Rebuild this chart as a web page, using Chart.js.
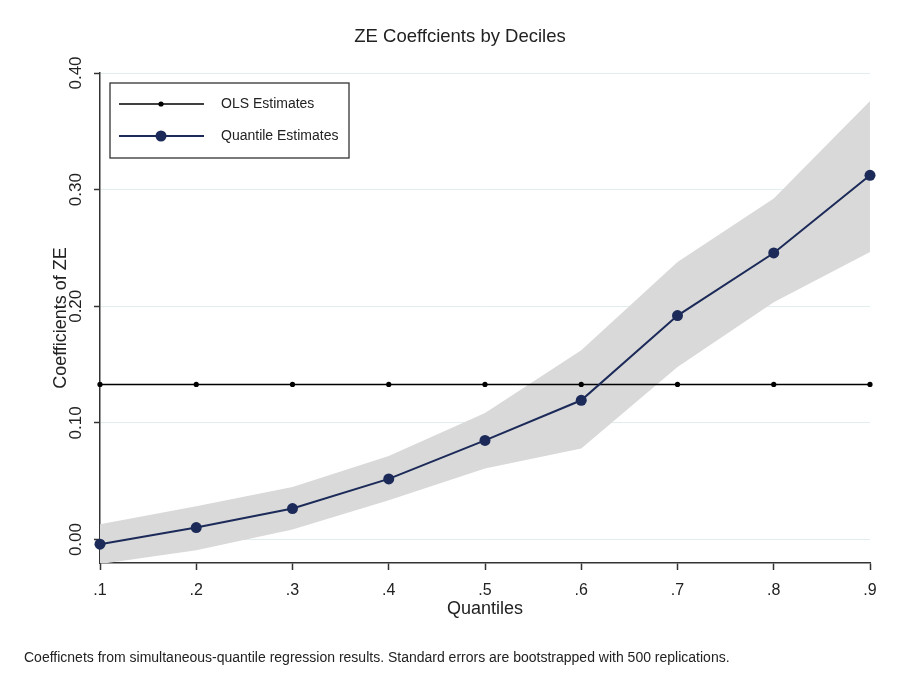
<!DOCTYPE html>
<html>
<head>
<meta charset="utf-8">
<script src="https://cdn.jsdelivr.net/npm/chart.js@4.4.0/dist/chart.umd.min.js"></script>
<style>
  html, body { margin: 0; padding: 0; background: #fff; }
  #wrap { width: 903px; height: 678px; }
</style>
</head>
<body>
<div id="wrap"><canvas id="zeChart" width="903" height="678"></canvas></div>
<script>
// data
const quantiles = ['.1', '.2', '.3', '.4', '.5', '.6', '.7', '.8', '.9'];
const olsEstimates = [0.133, 0.133, 0.133, 0.133, 0.133, 0.133, 0.133, 0.133, 0.133];
const quantileEstimates = [-0.004, 0.0103, 0.0266, 0.052, 0.085, 0.1194, 0.192, 0.2457, 0.3123];
const ciUpper = [0.0131, 0.0286, 0.0451, 0.0717, 0.1086, 0.1623, 0.238, 0.2923, 0.376];
const ciLower = [-0.021, -0.0092, 0.0086, 0.0337, 0.0609, 0.078, 0.148, 0.2034, 0.2466];
const yTicks = [0, 0.1, 0.2, 0.3, 0.4];

const footnote = 'Coefficnets from simultaneous-quantile regression results. Standard errors are bootstrapped with 500 replications.';
const navy = '#1b2a58';
const ink = '#222';

Chart.defaults.font.family = '"Liberation Sans", Arial, sans-serif';
Chart.defaults.color = ink;

// legend box inside plot, Stata style
const legendBox = {
    id: 'legendBox',
    afterDraw(chart) {
        const ctx = chart.ctx;
        const a = chart.chartArea;
        const x = a.left + 10, y = a.top + 10, w = 239, h = 75;
        ctx.save();
        ctx.fillStyle = '#fff';
        ctx.fillRect(x, y, w, h);
        ctx.strokeStyle = '#333';
        ctx.lineWidth = 1.3;
        ctx.strokeRect(x, y, w, h);
        const items = [chart.data.datasets[1], chart.data.datasets[0]];
        items.forEach(function(ds, i) {
            const cy = y + 21 + i * 32;
            ctx.strokeStyle = ds.borderColor;
            ctx.lineWidth = ds.borderWidth;
            ctx.beginPath();
            ctx.moveTo(x + 9, cy);
            ctx.lineTo(x + 94, cy);
            ctx.stroke();
            ctx.fillStyle = ds.pointBackgroundColor;
            ctx.beginPath();
            ctx.arc(x + 51, cy, ds.pointRadius, 0, Math.PI * 2);
            ctx.fill();
            ctx.fillStyle = ink;
            ctx.font = '14px "Liberation Sans", Arial, sans-serif';
            ctx.textBaseline = 'middle';
            ctx.fillText(ds.label, x + 111, cy);
        });
        ctx.restore();
    }
};

const noteText = {
    id: 'noteText',
    afterDraw(chart) {
        const ctx = chart.ctx;
        ctx.save();
        ctx.fillStyle = '#222';
        ctx.font = '14px "Liberation Sans", Arial, sans-serif';
        ctx.textBaseline = 'middle';
        ctx.fillText(footnote, 24, 658);
        ctx.restore();
    }
};

new Chart(document.getElementById('zeChart'), {
    type: 'line',
    data: {
        labels: quantiles,
        datasets: [{
            label: 'Quantile Estimates',
            data: quantileEstimates,
            borderColor: navy,
            borderWidth: 2,
            pointRadius: 5.5,
            pointBackgroundColor: navy,
            pointBorderWidth: 0,
            tension: 0,
            clip: false,
            order: 0
        }, {
            label: 'OLS Estimates',
            data: olsEstimates,
            borderColor: '#000',
            borderWidth: 1.6,
            pointRadius: 2.6,
            pointBackgroundColor: '#000',
            pointBorderWidth: 0,
            tension: 0,
            clip: false,
            order: 1
        }, {
            label: 'CI upper',
            data: ciUpper,
            borderWidth: 0,
            borderColor: 'rgba(0,0,0,0)',
            backgroundColor: '#d9d9d9',
            pointRadius: 0,
            fill: '+1',
            tension: 0,
            order: 2
        }, {
            label: 'CI lower',
            data: ciLower,
            borderWidth: 0,
            borderColor: 'rgba(0,0,0,0)',
            pointRadius: 0,
            fill: false,
            tension: 0,
            order: 3
        }]
    },
    options: {
        responsive: false,
        animation: false,
        devicePixelRatio: 1,
        layout: { padding: { left: 50, right: 33, top: 0, bottom: 58 } },
        plugins: {
            legend: { display: false },
            tooltip: { enabled: false },
            title: {
                display: true,
                text: 'ZE Coeffcients by Deciles',
                color: ink,
                font: { size: 18.5, weight: 'normal' },
                padding: { top: 26, bottom: 24.8 }
            }
        },
        scales: {
            x: {
                offset: false,
                grid: {
                    drawOnChartArea: false,
                    drawTicks: true,
                    tickLength: 7,
                    tickColor: '#333',
                    tickWidth: 1.5
                },
                border: { color: '#333', width: 1.5 },
                ticks: {
                    autoSkip: false,
                    maxRotation: 0,
                    padding: 11,
                    color: ink,
                    font: { size: 16 }
                },
                title: {
                    display: true,
                    text: 'Quantiles',
                    color: ink,
                    font: { size: 18 },
                    padding: { top: 0, bottom: 0 }
                },
                afterFit: function(s) { s.height = 57; }
            },
            y: {
                min: -0.0201,
                max: 0.4,
                afterBuildTicks: function(s) {
                    s.ticks = yTicks.map(function(v) { return { value: v }; });
                },
                grid: {
                    color: '#e2edf0',
                    lineWidth: 1,
                    drawTicks: true,
                    tickLength: 6,
                    tickColor: '#333',
                    tickWidth: 1.5
                },
                border: { color: '#333', width: 1.5 },
                ticks: {
                    minRotation: 90,
                    maxRotation: 90,
                    crossAlign: 'center',
                    padding: 1,
                    color: ink,
                    font: { size: 17 },
                    callback: function(v) { return v.toFixed(2); }
                },
                title: {
                    display: true,
                    text: 'Coefficients of ZE',
                    color: ink,
                    font: { size: 18 },
                    padding: { top: 0, bottom: 0 }
                },
                afterFit: function(s) { s.width = 50; }
            }
        }
    },
    plugins: [legendBox, noteText]
});
</script>
</body>
</html>
